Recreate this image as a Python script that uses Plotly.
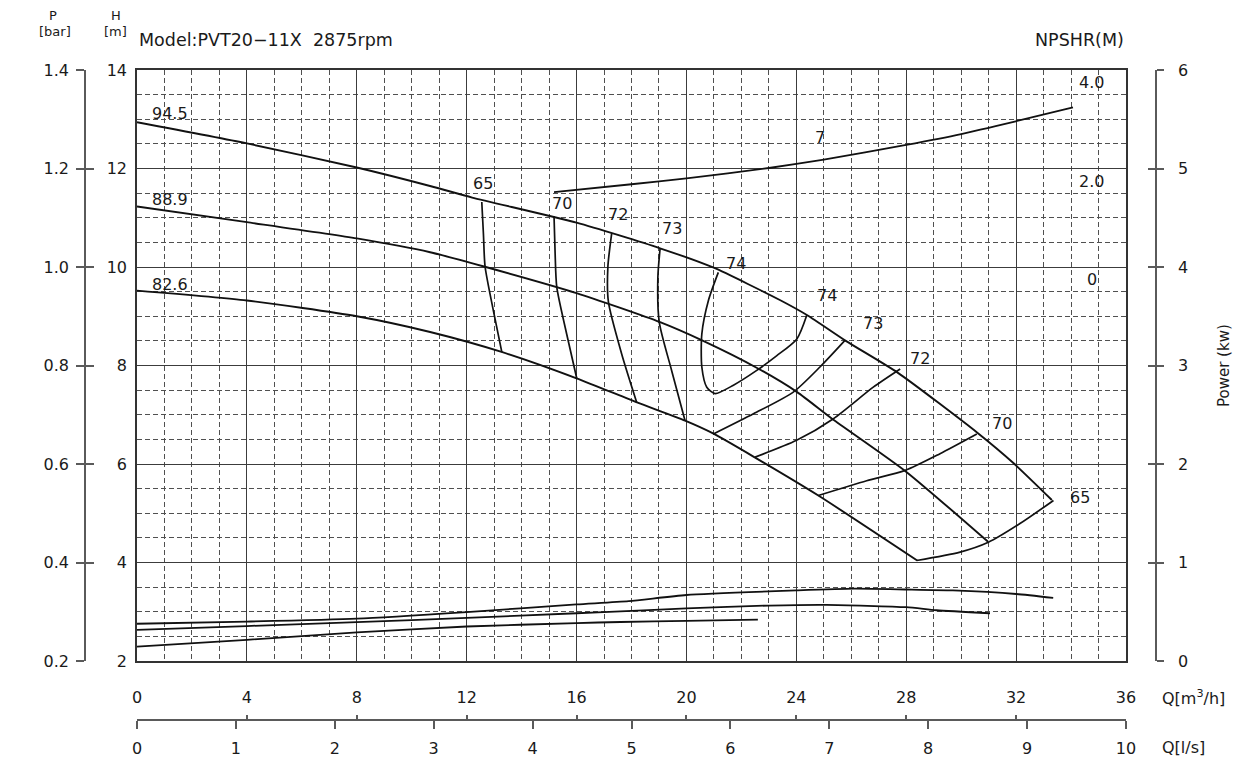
import plotly.graph_objects as go

# ---------------- data ----------------
# Q in m3/h, H in m
q_d945 = [0, 4, 8, 10.7, 12.2, 16, 19.04, 20.97, 23.4, 24.4, 25.8, 27.7, 30.6, 31.9, 33.3]
h_d945 = [12.94, 12.51, 12.02, 11.64, 11.41, 10.90, 10.38, 9.99, 9.33, 9.02, 8.50, 7.85, 6.63, 6.02, 5.27]

q_d889 = [0, 4, 8, 10.67, 12.63, 16.0, 19.04, 20.57, 22.57, 24.03, 25.3, 27.96, 30.98]
h_d889 = [11.23, 10.91, 10.58, 10.30, 10.01, 9.47, 8.88, 8.51, 7.95, 7.46, 6.92, 5.86, 4.42]

q_d826 = [0, 4, 8, 10.67, 13.3, 16.0, 18.2, 19.95, 20.97, 22.5, 24.8, 28.4]
h_d826 = [9.52, 9.32, 9.0, 8.68, 8.27, 7.74, 7.25, 6.88, 6.62, 6.13, 5.36, 4.04]

impeller_names = ["94.5", "88.9", "82.6"]

# iso-efficiency lines (Q, H)
eff65a_q = [12.55, 12.61, 12.67, 12.97, 13.28]
eff65a_h = [11.32, 10.67, 10.01, 9.12, 8.27]
eff70a_q = [15.18, 15.22, 15.28, 15.64, 16.01]
eff70a_h = [11.03, 10.27, 9.59, 8.64, 7.73]
eff72a_q = [17.28, 17.14, 17.16, 17.64, 18.19]
eff72a_h = [10.69, 10.00, 9.29, 8.24, 7.25]
eff73a_q = [19.04, 18.96, 19.01, 19.46, 19.95]
eff73a_h = [10.37, 9.79, 8.88, 7.90, 6.88]
eff74_q = [21.16, 20.80, 20.56, 20.56, 20.74, 21.04, 21.71, 22.56, 23.29, 24.02, 24.38]
eff74_h = [9.89, 9.32, 8.64, 7.97, 7.56, 7.43, 7.60, 7.90, 8.20, 8.54, 9.02]
eff73b_q = [20.98, 22.44, 23.89, 24.86, 25.77]
eff73b_h = [6.61, 7.02, 7.46, 7.97, 8.51]
eff72b_q = [22.50, 24.01, 25.35, 26.80, 27.78]
eff72b_h = [6.14, 6.48, 6.92, 7.56, 7.93]
eff70b_q = [24.80, 26.56, 27.96, 29.23, 30.57]
eff70b_h = [5.36, 5.66, 5.87, 6.21, 6.61]
eff65b_q = [28.38, 29.96, 30.99, 32.14, 33.36]
eff65b_h = [4.04, 4.21, 4.41, 4.79, 5.26]

# NPSHR (m) vs Q
npsh_q = [15.18, 18, 20, 23, 25, 28, 30, 32, 34.07]
npsh_v = [2.02, 2.18, 2.30, 2.51, 2.68, 2.98, 3.20, 3.46, 3.74]
npsh_scale_labels = [4.0, 2.0, 0.0]
npsh_curve_label = "7"

# Power (kW) vs Q
powA_q = [0, 4, 8, 12, 16, 17.9, 20, 24, 26.1, 28, 29.7, 32, 33.35]
powA_v = [0.378, 0.40, 0.43, 0.497, 0.574, 0.607, 0.67, 0.716, 0.734, 0.726, 0.716, 0.68, 0.64]
powB_q = [0, 4, 8, 12, 16, 17.6, 20, 23, 25.1, 28, 29.1, 31.05]
powB_v = [0.317, 0.355, 0.394, 0.438, 0.485, 0.503, 0.535, 0.563, 0.57, 0.546, 0.515, 0.485]
powC_q = [0, 4, 8, 12, 16, 17.6, 20, 22.6]
powC_v = [0.146, 0.215, 0.29, 0.35, 0.385, 0.396, 0.407, 0.42]

# axis ticks
q_m3h_ticks = [0, 4, 8, 12, 16, 20, 24, 28, 32, 36]
q_ls_ticks = [0, 1, 2, 3, 4, 5, 6, 7, 8, 9, 10]
h_ticks = [2, 4, 6, 8, 10, 12, 14]
p_ticks = [0.2, 0.4, 0.6, 0.8, 1.0, 1.2, 1.4]
power_ticks = [0, 1, 2, 3, 4, 5, 6]

# ---------------- layout geometry ----------------
# the page body has an 8px margin; positions below are given in window pixels
OFF = 8
W, HH = 1243 - OFF, 768 - OFF
ML, MR, MT, MB = 12, 12, 2, 2
PWID, PHGT = W - ML - MR, HH - MT - MB


def px(x):
    return (x - OFF - ML) / PWID


def py(y):
    return (HH - MB - (y - OFF)) / PHGT


FONT = "DejaVu Sans"
TXT = "#1a1a1a"
CURVE = "#111111"
GRID_SOLID = "#3c3c3c"
GRID_DASH = "#505050"
AXC = "#5a5a5a"

fig = go.Figure()

# pump H-Q curves
for qq, hh in [(q_d945, h_d945), (q_d889, h_d889), (q_d826, h_d826)]:
    fig.add_trace(go.Scatter(x=qq, y=hh, mode="lines",
                             line=dict(color=CURVE, width=1.9, shape="spline", smoothing=0.6),
                             hoverinfo="skip", showlegend=False))

eff_lines = [
    (eff65a_q, eff65a_h), (eff70a_q, eff70a_h), (eff72a_q, eff72a_h), (eff73a_q, eff73a_h),
    (eff74_q, eff74_h), (eff73b_q, eff73b_h), (eff72b_q, eff72b_h), (eff70b_q, eff70b_h),
    (eff65b_q, eff65b_h),
]
for qq, hh in eff_lines:
    fig.add_trace(go.Scatter(x=qq, y=hh, mode="lines",
                             line=dict(color=CURVE, width=1.7, shape="spline", smoothing=0.7),
                             hoverinfo="skip", showlegend=False))

# NPSHR
fig.add_trace(go.Scatter(x=npsh_q, y=npsh_v, yaxis="y6", mode="lines",
                         line=dict(color=CURVE, width=1.8, shape="spline", smoothing=0.6),
                         hoverinfo="skip", showlegend=False))

# Power
for qq, vv in [(powA_q, powA_v), (powB_q, powB_v), (powC_q, powC_v)]:
    fig.add_trace(go.Scatter(x=qq, y=vv, yaxis="y4", mode="lines",
                             line=dict(color=CURVE, width=1.8, shape="spline", smoothing=0.6),
                             hoverinfo="skip", showlegend=False))

# invisible helper traces so that every auxiliary axis is drawn
fig.add_trace(go.Scatter(x=[0, 36], y=[p_ticks[0], p_ticks[-1]], yaxis="y2", mode="markers",
                         marker=dict(opacity=0), hoverinfo="skip", showlegend=False))
fig.add_trace(go.Scatter(x=[0, 36], y=[p_ticks[0], p_ticks[-1]], yaxis="y3", mode="markers",
                         marker=dict(opacity=0), hoverinfo="skip", showlegend=False))
fig.add_trace(go.Scatter(x=[0, 36], y=[power_ticks[0], power_ticks[-1]], yaxis="y5", mode="markers",
                         marker=dict(opacity=0), hoverinfo="skip", showlegend=False))
fig.add_trace(go.Scatter(x=[q_ls_ticks[0], q_ls_ticks[-1]], y=[2, 2], xaxis="x2", mode="markers",
                         marker=dict(opacity=0), hoverinfo="skip", showlegend=False))
fig.add_trace(go.Scatter(x=[q_m3h_ticks[0], q_m3h_ticks[-1]], y=[2, 2], xaxis="x3", mode="markers",
                         marker=dict(opacity=0), hoverinfo="skip", showlegend=False))

xdom = [px(137), px(1126)]
ydom = [py(661), py(70)]
dashpat = "5px,3px"
tickfont = dict(family=FONT, size=16, color=TXT)

fig.update_layout(
    template="none",
    width=W, height=HH,
    margin=dict(l=ML, r=MR, t=MT, b=MB, autoexpand=False),
    paper_bgcolor="white", plot_bgcolor="white",
    showlegend=False,
    font=dict(family=FONT, size=16, color=TXT),
    xaxis=dict(domain=xdom, range=[0, 36], tickmode="array", tickvals=q_m3h_ticks,
               showgrid=True, gridcolor=GRID_SOLID, gridwidth=1.3,
               minor=dict(tick0=0, dtick=1, showgrid=True, gridcolor=GRID_DASH, gridwidth=1.2,
                          griddash=dashpat, ticks=""),
               showline=True, linecolor="#333", linewidth=1.6, mirror=True, automargin=False,
               ticks="", zeroline=False, tickfont=tickfont, ticklabelstandoff=21, anchor="y"),
    yaxis=dict(domain=ydom, range=[2, 14], tickmode="array", tickvals=h_ticks,
               showgrid=True, gridcolor=GRID_SOLID, gridwidth=1.3,
               minor=dict(tick0=2, dtick=0.5, showgrid=True, gridcolor=GRID_DASH, gridwidth=1.2,
                          griddash=dashpat, ticks=""),
               showline=True, linecolor="#333", linewidth=1.6, mirror=True, automargin=False,
               ticks="", zeroline=False, tickfont=tickfont, ticklabelstandoff=5, anchor="x"),
    yaxis2=dict(overlaying="y", anchor="free", position=px(85), side="left", automargin=False,
                range=[0.2, 1.4], tickmode="array", tickvals=p_ticks, tickformat=".1f",
                ticks="outside", ticklen=8, tickwidth=1.5, tickcolor=AXC,
                showline=True, linecolor=AXC, linewidth=1.5, showgrid=False, zeroline=False,
                tickfont=tickfont, ticklabelstandoff=4),
    yaxis3=dict(overlaying="y", anchor="free", position=px(85), side="left", automargin=False,
                range=[0.2, 1.4], tickmode="array", tickvals=p_ticks,
                ticks="inside", ticklen=8, tickwidth=1.5, tickcolor=AXC,
                showline=False, showgrid=False, zeroline=False, showticklabels=False),
    yaxis4=dict(overlaying="y", anchor="free", position=px(1156), side="right", automargin=False,
                range=[0, 6], tickmode="array", tickvals=power_ticks,
                ticks="outside", ticklen=7, tickwidth=1.5, tickcolor=AXC,
                showline=True, linecolor=AXC, linewidth=1.5, showgrid=False, zeroline=False,
                tickfont=tickfont, ticklabelstandoff=11),
    yaxis5=dict(overlaying="y", anchor="free", position=px(1156), side="right", automargin=False,
                range=[0, 6], tickmode="array", tickvals=power_ticks,
                ticks="inside", ticklen=8, tickwidth=1.5, tickcolor=AXC,
                showline=False, showgrid=False, zeroline=False, showticklabels=False),
    yaxis6=dict(overlaying="y", range=[-7.5, 4.5], visible=False, showgrid=False, zeroline=False,
                automargin=False),
    xaxis2=dict(overlaying="x", anchor="free", position=py(720), side="bottom", automargin=False,
                range=[0, 10], tickmode="array", tickvals=q_ls_ticks,
                ticks="outside", ticklen=8, tickwidth=1.5, tickcolor=AXC,
                showline=True, linecolor=AXC, linewidth=1.5, showgrid=False, zeroline=False,
                tickfont=tickfont, ticklabelstandoff=6),
    xaxis3=dict(overlaying="x", anchor="free", position=py(720), side="bottom", automargin=False,
                range=[0, 36], tickmode="array", tickvals=q_m3h_ticks,
                ticks="inside", ticklen=5, tickwidth=1.5, tickcolor=AXC,
                showline=False, showgrid=False, zeroline=False, showticklabels=False),
)

ann = []


def paper_text(text, x, y, size, xanchor="center", yanchor="middle", angle=0):
    ann.append(dict(text=text, x=px(x), y=py(y), xref="paper", yref="paper",
                    xanchor=xanchor, yanchor=yanchor, showarrow=False, textangle=angle,
                    font=dict(family=FONT, size=size, color=TXT)))


paper_text("P", 53, 15, 13)
paper_text("[bar]", 55, 31, 13)
paper_text("H", 116, 15, 13)
paper_text("[m]", 115, 31, 13)
paper_text("Model:PVT20\u221211X\u00a0 2875rpm", 137, 40, 17.5, xanchor="left")
paper_text("NPSHR(M)", 1126, 40, 17.5, xanchor="right")
paper_text("Power (kw)", 1224, 366, 15, angle=-90)
paper_text("Q[m<sup>3</sup>/h]", 1160, 697, 16, xanchor="left")
paper_text("Q[l/s]", 1160, 747, 16, xanchor="left")

# impeller diameter labels at curve starts
for name, qq, hh, ys in zip(impeller_names, [q_d945, q_d889, q_d826],
                            [h_d945, h_d889, h_d826], [9, 7, 6]):
    ann.append(dict(text=name, x=qq[0], y=hh[0], xref="x", yref="y", showarrow=False,
                    xanchor="center", yanchor="middle", xshift=33, yshift=ys,
                    font=dict(family=FONT, size=16, color=TXT)))

# efficiency labels: (line, which end, text, xshift, yshift)
eff_label_spec = [
    (0, 0, "65", 1, 18), (1, 0, "70", 8, 13), (2, 0, "72", 6, 19), (3, 0, "73", 12, 20),
    (4, 0, "74", 18, 9), (4, -1, "74", 20, 20), (5, -1, "73", 28, 17), (6, -1, "72", 20, 10),
    (7, -1, "70", 25, 10), (8, -1, "65", 27, 3),
]
for idx, end, txt, xs, ys in eff_label_spec:
    qq, hh = eff_lines[idx]
    ann.append(dict(text=txt, x=qq[end], y=hh[end], xref="x", yref="y", showarrow=False,
                    xanchor="center", yanchor="middle", xshift=xs, yshift=ys,
                    font=dict(family=FONT, size=16, color=TXT)))

# NPSH labels
ann.append(dict(text=npsh_curve_label, x=npsh_q[4], y=npsh_v[4], xref="x", yref="y6",
                showarrow=False, xanchor="center", yanchor="middle", xshift=-4, yshift=22,
                font=dict(family=FONT, size=16, color=TXT)))
for v in npsh_scale_labels:
    ann.append(dict(text=("0" if v == 0 else f"{v:.1f}"), x=34.76, y=v, xref="x", yref="y6",
                    showarrow=False, xanchor="center", yanchor="middle", yshift=12,
                    font=dict(family=FONT, size=16, color=TXT)))

fig.update_layout(annotations=ann)

fig.write_html("out.html")
